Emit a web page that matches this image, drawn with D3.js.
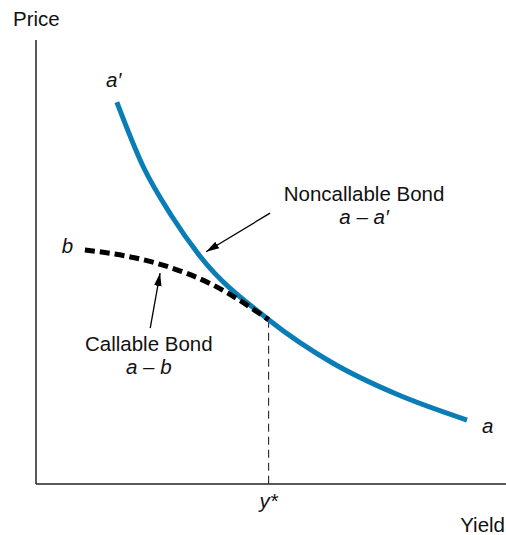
<!DOCTYPE html>
<html lang="en">
<head>
    <meta charset="UTF-8">
    <title>Price-Yield: Callable vs Noncallable Bond</title>
    <script src="https://d3js.org/d3.v7.min.js"></script>
    <style>
        body { margin: 0; background: #fff; }
        text {
            font-family: "Liberation Sans", Arial, Helvetica, sans-serif;
            font-size: 20.5px;
            fill: #111;
        }
        .it { font-style: italic; }
    </style>
</head>
<body>
    <svg width="506" height="535"></svg>
    <script>
        // yield (x) / price (y) in arbitrary units
        const noncallableYield = [1.72, 2.28, 2.89, 3.49, 4.95, 6.32, 7.68, 9.17];
        const noncallablePrice = [8.60, 7.15, 6.03, 5.13, 3.70, 2.72, 2.02, 1.44];

        const callableYield = [1.04, 1.89, 2.70, 3.77, 4.95];
        const callablePrice = [5.27, 5.14, 4.93, 4.48, 3.70];

        const yStar = 4.95;

        const svg = d3.select("svg");

        const x = d3.scaleLinear().domain([0, 10]).range([36, 506]);
        const y = d3.scaleLinear().domain([0, 10]).range([484, 40]);

        const toPts = (xs, ys) => xs.map((v, i) => [v, ys[i]]);

        // axes (plain lines, no ticks)
        svg.append("line")
            .attr("x1", x(0)).attr("y1", y(0))
            .attr("x2", x(0)).attr("y2", y(10))
            .attr("stroke", "#222").attr("stroke-width", 1.5);
        svg.append("line")
            .attr("x1", x(0)).attr("y1", y(0))
            .attr("x2", x(10)).attr("y2", y(0))
            .attr("stroke", "#222").attr("stroke-width", 1.5);

        const line = d3.line()
            .x(d => x(d[0]))
            .y(d => y(d[1]))
            .curve(d3.curveMonotoneX);

        // y* drop line
        svg.append("line")
            .attr("x1", x(yStar)).attr("y1", y(callablePrice[callablePrice.length - 1]))
            .attr("x2", x(yStar)).attr("y2", y(0))
            .attr("stroke", "#111").attr("stroke-width", 1)
            .attr("stroke-dasharray", "8,5");

        svg.append("path")
            .datum(toPts(noncallableYield, noncallablePrice))
            .attr("d", line)
            .attr("fill", "none")
            .attr("stroke", "#0a7db6")
            .attr("stroke-width", 5);

        svg.append("path")
            .datum(toPts(callableYield, callablePrice))
            .attr("d", line)
            .attr("fill", "none")
            .attr("stroke", "#000")
            .attr("stroke-width", 5)
            .attr("stroke-dasharray", "10,5");

        // arrows
        svg.append("defs").append("marker")
            .attr("id", "head")
            .attr("viewBox", "0 0 12 10")
            .attr("refX", 12).attr("refY", 5)
            .attr("markerWidth", 13).attr("markerHeight", 11)
            .attr("markerUnits", "userSpaceOnUse")
            .attr("orient", "auto")
            .append("path")
            .attr("d", "M0,1.5 L12,5 L0,8.5 Z")
            .attr("fill", "#000");

        const arrows = [
            { from: [4.98, 6.10], to: [3.62, 5.23] },
            { from: [2.43, 3.51], to: [2.64, 4.75] }
        ];
        svg.selectAll(".arrow")
            .data(arrows)
            .enter().append("line")
            .attr("class", "arrow")
            .attr("x1", d => x(d.from[0])).attr("y1", d => y(d.from[1]))
            .attr("x2", d => x(d.to[0])).attr("y2", d => y(d.to[1]))
            .attr("stroke", "#000").attr("stroke-width", 1.3)
            .attr("marker-end", "url(#head)");

        // labels
        const labels = [
            { t: "Noncallable Bond", at: [6.98, 6.37], anchor: "middle", it: false },
            { t: "a \u2013 a\u2032", at: [6.98, 5.86], anchor: "middle", it: true },
            { t: "Callable Bond", at: [2.40, 2.99], anchor: "middle", it: false },
            { t: "a \u2013 b", at: [2.40, 2.48], anchor: "middle", it: true },
            { t: "a\u2032", at: [1.49, 8.94], anchor: "start", it: true },
            { t: "b", at: [0.55, 5.20], anchor: "start", it: true },
            { t: "a", at: [9.49, 1.15], anchor: "start", it: true }
        ];
        svg.selectAll(".lbl")
            .data(labels)
            .enter().append("text")
            .attr("class", d => d.it ? "lbl it" : "lbl")
            .attr("x", d => x(d.at[0]))
            .attr("y", d => y(d.at[1]))
            .attr("text-anchor", d => d.anchor)
            .text(d => d.t);

        svg.append("text")
            .attr("class", "it")
            .attr("x", x(yStar))
            .attr("y", y(0) + 24)
            .attr("text-anchor", "middle")
            .text("y*");

        svg.append("text")
            .attr("x", 13).attr("y", 26)
            .text("Price");

        svg.append("text")
            .attr("x", 505).attr("y", 532)
            .attr("text-anchor", "end")
            .text("Yield");
    </script>
</body>
</html>
